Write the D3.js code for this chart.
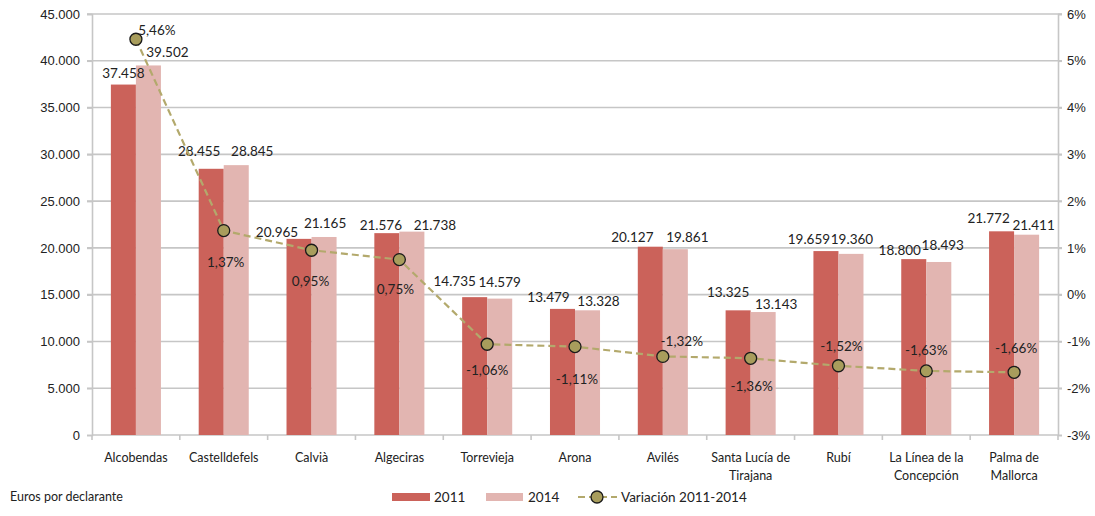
<!DOCTYPE html>
<html>
<head>
<meta charset="utf-8">
<script src="https://cdn.jsdelivr.net/npm/d3@7"></script>
<style>
  body { margin: 0; background: #fff; }
  svg { font-family: Lato, "Open Sans", sans-serif; }
</style>
</head>
<body>
<div id="chart"></div>
<script>
// datos
const categories = ["Alcobendas", "Castelldefels", "Calvià", "Algeciras", "Torrevieja", "Arona",
    "Avilés", "Santa Lucía de Tirajana", "Rubí", "La Línea de la Concepción", "Palma de Mallorca"];
const labelLines = [["Alcobendas"], ["Castelldefels"], ["Calvià"], ["Algeciras"], ["Torrevieja"], ["Arona"],
    ["Avilés"], ["Santa Lucía de", "Tirajana"], ["Rubí"], ["La Línea de la", "Concepción"], ["Palma de", "Mallorca"]];
const values2011 = [37458, 28455, 20965, 21576, 14735, 13479, 20127, 13325, 19659, 18800, 21772];
const values2014 = [39502, 28845, 21165, 21738, 14579, 13328, 19861, 13143, 19360, 18493, 21411];
const variation = [5.46, 1.37, 0.95, 0.75, -1.06, -1.11, -1.32, -1.36, -1.52, -1.63, -1.66];
const leftTicks = [0, 5000, 10000, 15000, 20000, 25000, 30000, 35000, 40000, 45000];
const rightTicks = [-3, -2, -1, 0, 1, 2, 3, 4, 5, 6];
const seriesNames = ["2011", "2014", "Variación 2011-2014"];

// desplazamiento de etiquetas (px, respecto a la barra / punto), como en el original
const nudge2011 = [[0, -12], [-12, -18], [-22, -7], [-6, -8], [-20, -16], [-14, -12], [-18, -10], [-10, -18], [-17, -12], [-14, -9], [-13, -13]];
const nudge2014 = [[19, -13], [16, -14], [1, -14], [23, -7], [0, -17], [11, -9], [12, -12], [13, -8], [1, -15], [4, -17], [7, -10]];
const nudgePct = [[21, -9], [2, 31], [-1, 31], [-4, 29], [0, 26], [2, 32], [19, -15], [1, 28], [3, -20], [0, -21], [2, -24]];

const W = 1095, H = 516;
const margin = { top: 14, right: 37, bottom: 81, left: 92 };
const colors = { s2011: "#cb625a", s2014: "#e2b5b1", line: "#b3a96c", marker: "#a89d5c", grid: "#c6c6c6", text: "#222" };

const es = d3.formatLocale({ decimal: ",", thousands: ".", grouping: [3], currency: ["", "€"], minus: "-" });
const fmtNum = es.format(",d");
const fmtPct = v => es.format(".2f")(v) + "%";

const svg = d3.select("#chart").append("svg")
    .attr("width", W)
    .attr("height", H);

const x = d3.scaleBand()
    .domain(categories)
    .range([margin.left, W - margin.right])
    .paddingInner(0.43)
    .paddingOuter(0.215);

const xSub = d3.scaleBand()
    .domain(["2011", "2014"])
    .range([0, x.bandwidth()]);

const yL = d3.scaleLinear().domain([0, 45000]).range([H - margin.bottom, margin.top]);
const yR = d3.scaleLinear().domain([-3, 6]).range([H - margin.bottom, margin.top]);

// rejilla
svg.append("g")
    .selectAll("line")
    .data(leftTicks.slice(1))
    .join("line")
    .attr("x1", margin.left - 5)
    .attr("x2", W - margin.right + 4)
    .attr("y1", d => yL(d))
    .attr("y2", d => yL(d))
    .attr("stroke", colors.grid)
    .attr("stroke-width", 1.6);

// ejes
const axisStyle = g => {
    g.select(".domain").attr("stroke", colors.grid).attr("stroke-width", 1.6);
    g.selectAll(".tick line").attr("stroke", colors.grid).attr("stroke-width", 1.6);
    g.selectAll("text").attr("fill", colors.text).style("font-size", "13px");
};

svg.append("g")
    .attr("transform", `translate(${margin.left},0)`)
    .call(d3.axisLeft(yL).tickValues(leftTicks).tickFormat(d => fmtNum(d)).tickSizeOuter(0).tickSize(5).tickPadding(7))
    .call(axisStyle);

svg.append("g")
    .attr("transform", `translate(${W - margin.right},0)`)
    .call(d3.axisRight(yR).tickValues(rightTicks).tickFormat(d => d + "%").tickSizeOuter(0).tickSize(4).tickPadding(5))
    .call(axisStyle);

// eje x con marcas entre categorías
const bounds = categories.map(c => x(c) - x.step() * x.paddingInner() / 2);
bounds.push(W - margin.right);
const xAxis = svg.append("g");
xAxis.append("line")
    .attr("x1", margin.left).attr("x2", W - margin.right)
    .attr("y1", yL(0)).attr("y2", yL(0))
    .attr("stroke", colors.grid).attr("stroke-width", 1.6);
xAxis.selectAll(".tk")
    .data(bounds)
    .join("line")
    .attr("class", "tk")
    .attr("x1", d => d).attr("x2", d => d)
    .attr("y1", yL(0)).attr("y2", yL(0) + 5)
    .attr("stroke", colors.grid).attr("stroke-width", 1.6);

xAxis.selectAll(".cat")
    .data(categories)
    .join("text")
    .attr("class", "cat")
    .attr("text-anchor", "middle")
    .attr("fill", colors.text)
    .style("font-size", "12.5px")
    .attr("x", d => x(d) + x.bandwidth() / 2)
    .attr("y", yL(0) + 27)
    .selectAll("tspan")
    .data((d, i) => labelLines[i])
    .join("tspan")
    .attr("x", function() { return d3.select(this.parentNode).attr("x"); })
    .attr("dy", (d, i) => i === 0 ? 0 : 18)
    .text(d => d);

// barras
const barData = categories.map((c, i) => [
    { cat: c, i, key: "2011", value: values2011[i] },
    { cat: c, i, key: "2014", value: values2014[i] }
]).flat();

svg.append("g")
    .selectAll("rect")
    .data(barData)
    .join("rect")
    .attr("x", d => x(d.cat) + xSub(d.key))
    .attr("y", d => yL(d.value))
    .attr("width", xSub.bandwidth())
    .attr("height", d => yL(0) - yL(d.value))
    .attr("fill", d => d.key === "2011" ? colors.s2011 : colors.s2014);

// etiquetas de barras
const nudgeOf = d => (d.key === "2011" ? nudge2011 : nudge2014)[d.i];
svg.append("g")
    .selectAll("text")
    .data(barData)
    .join("text")
    .attr("text-anchor", "middle")
    .attr("fill", colors.text)
    .style("font-size", "13.5px")
    .attr("x", d => x(d.cat) + xSub(d.key) + xSub.bandwidth() / 2 + nudgeOf(d)[0])
    .attr("y", d => yL(d.value) + nudgeOf(d)[1] + 5)
    .text(d => fmtNum(d.value));

// línea de variación
const cx = c => x(c) + x.bandwidth() / 2;
const lineGen = d3.line()
    .x((d, i) => cx(categories[i]))
    .y(d => yR(d));

svg.append("path")
    .datum(variation)
    .attr("d", lineGen)
    .attr("fill", "none")
    .attr("stroke", colors.line)
    .attr("stroke-width", 2.2)
    .attr("stroke-dasharray", "7,4");

svg.append("g")
    .selectAll("circle")
    .data(variation)
    .join("circle")
    .attr("cx", (d, i) => cx(categories[i]))
    .attr("cy", d => yR(d))
    .attr("r", 6)
    .attr("fill", colors.marker)
    .attr("stroke", "#1a1a1a")
    .attr("stroke-width", 1.3);

svg.append("g")
    .selectAll("text")
    .data(variation)
    .join("text")
    .attr("text-anchor", "middle")
    .attr("fill", colors.text)
    .style("font-size", "13.5px")
    .attr("x", (d, i) => cx(categories[i]) + nudgePct[i][0])
    .attr("y", (d, i) => yR(d) + nudgePct[i][1] + 5)
    .text(d => fmtPct(d));

// nota
svg.append("text")
    .attr("x", 10)
    .attr("y", 501)
    .attr("fill", colors.text)
    .style("font-size", "12.5px")
    .text("Euros por declarante");

// leyenda
const legend = svg.append("g").style("font-size", "13.5px").attr("fill", colors.text);
const legY = 497;
legend.append("rect").attr("x", 392).attr("y", legY - 4).attr("width", 38).attr("height", 8).attr("fill", colors.s2011);
legend.append("text").attr("x", 434).attr("y", legY + 5).text(seriesNames[0]);
legend.append("rect").attr("x", 486).attr("y", legY - 4).attr("width", 37).attr("height", 8).attr("fill", colors.s2014);
legend.append("text").attr("x", 528).attr("y", legY + 5).text(seriesNames[1]);
legend.append("line").attr("x1", 578).attr("x2", 617).attr("y1", legY).attr("y2", legY)
    .attr("stroke", colors.line).attr("stroke-width", 2.2).attr("stroke-dasharray", "7,4");
legend.append("circle").attr("cx", 597).attr("cy", legY).attr("r", 6)
    .attr("fill", colors.marker).attr("stroke", "#1a1a1a").attr("stroke-width", 1.3);
legend.append("text").attr("x", 621).attr("y", legY + 5).text(seriesNames[2]);
</script>
</body>
</html>
